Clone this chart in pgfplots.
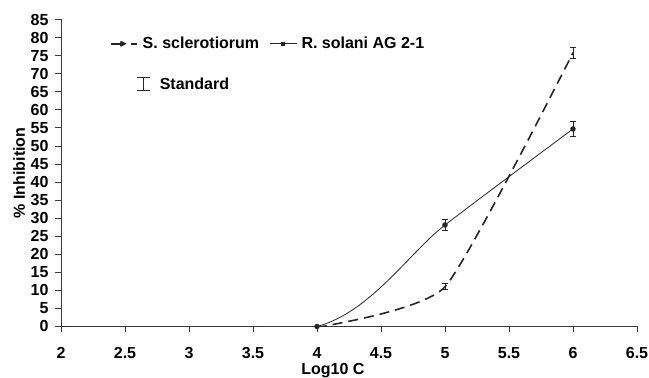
\documentclass[border=0pt]{standalone}
\usepackage{pgfplots}
\pgfplotsset{compat=1.18}
\usepackage{fontspec}
\setmainfont{Liberation Sans}
\definecolor{ln}{HTML}{262626}
\definecolor{ax}{HTML}{3A3A3A}
\begin{document}
\fontsize{16bp}{18bp}\selectfont\bfseries
\begin{tikzpicture}
\begin{axis}[
  scale only axis, width=576bp, height=307bp,
  xmin=2, xmax=6.5, ymin=0, ymax=85,
  axis lines=left, axis line style={-, ax, line width=0.9pt},
  tick align=outside, major tick length=5.5bp,
  tick style={ax, line width=0.8pt},
  xtick={2,2.5,...,6.5}, ytick={0,5,...,85},
  /pgf/number format/assume math mode=true,
  ticklabel style={font=\fontsize{16bp}{18bp}\selectfont\bfseries},
  xticklabel style={yshift=-10bp},
  yticklabel style={xshift=-1.5bp},
  xlabel={Log10 C}, ylabel={\% Inhibition},
  xlabel style={at={(axis description cs:0.472,-0.155)}, anchor=base},
  ylabel style={at={(axis description cs:-0.0725,0.5)}, anchor=center},
  clip=true,
  legend columns=2,
  legend style={draw=none, fill=none, at={(0.085,0.921)}, anchor=west,
    inner sep=0pt,
    font=\fontsize{16bp}{18bp}\selectfont\bfseries,
    /tikz/every odd column/.append style={column sep=2.5bp},
    /tikz/every even column/.append style={column sep=8bp}},
  error bars/error bar style={ln, line width=0.8pt},
  error bars/error mark options={ln, line width=0.8pt, mark size=2.7bp, rotate=90},
]
\addplot[ln, line width=1.6pt, dash pattern=on 10bp off 6bp, smooth, tension=0.3,
  mark=triangle*, mark size=2.2bp, mark options={solid}, mark indices={3,4,5},
  legend image code/.code={
    \draw[ln, line width=1.6pt, solid] (0bp,0bp) -- (10.5bp,0bp) (20bp,0bp) -- (26.5bp,0bp);
    \fill[ln] (9.5bp,-2.3bp) -- (14bp,0bp) -- (9.5bp,2.3bp) -- cycle;},
  error bars/.cd, y dir=both, y explicit]
  table[x=x, y=y, y error=e] {
  x y e
  2 -0.3 0
  3.5 -0.3 0
  4 -0.3 0
  5 11 0.8
  6 75.8 1.55
};
\addlegendentry{S. sclerotiorum}
\addplot[ln, line width=0.8pt, smooth, tension=0.5,
  mark=*, mark size=2.3bp, mark indices={2,3,4},
  legend image code/.code={
    \draw[ln, line width=0.8pt] (0bp,0bp) -- (27bp,0bp);
    \fill[ln] (12bp,-1.5bp) rectangle (15bp,1.5bp);},
  error bars/.cd, y dir=both, y explicit]
  table[x=x, y=y, y error=e] {
  x y e
  2 0 0
  4 0 0
  5 28.1 1.5
  6 54.7 2.2
};
\addlegendentry{R. solani AG 2-1}
\draw[ln, line width=0.8pt]
  ([xshift=-6.5bp,yshift=6.2bp]axis cs:2.641,67.2) -- ([xshift=6.5bp,yshift=6.2bp]axis cs:2.641,67.2)
  ([yshift=6.2bp]axis cs:2.641,67.2) -- ([yshift=-6.2bp]axis cs:2.641,67.2)
  ([xshift=-6.5bp,yshift=-6.2bp]axis cs:2.641,67.2) -- ([xshift=6.5bp,yshift=-6.2bp]axis cs:2.641,67.2);
\node[anchor=west, inner sep=0pt, font=\fontsize{16bp}{18bp}\selectfont\bfseries]
  at (axis cs:2.770,67.2) {Standard};
\end{axis}
\pgfresetboundingbox
\path ([xshift=-61bp,yshift=-51bp]current axis.south west) rectangle ([xshift=12bp,yshift=19.5bp]current axis.north east);
\end{tikzpicture}
\end{document}
